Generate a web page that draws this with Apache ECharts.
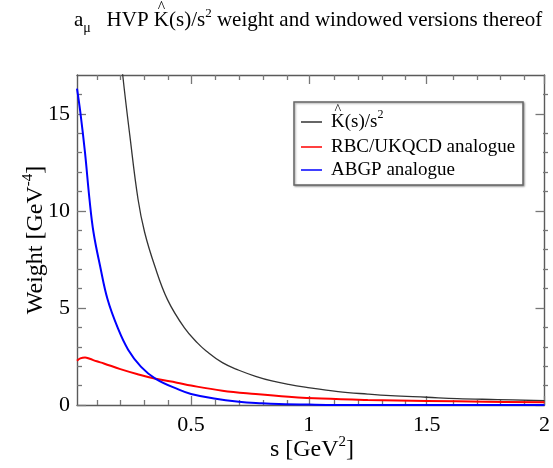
<!DOCTYPE html>
<html>
<head>
<meta charset="utf-8">
<script src="https://cdn.jsdelivr.net/npm/echarts@6/dist/echarts.min.js"></script>
<style>
  html, body { margin: 0; padding: 0; background: #fff; }
  #chart { width: 553px; height: 468px; }
</style>
</head>
<body>
<div id="chart"></div>
<script>
// Full a_mu HVP kernel weight  K^(s)/s^2
const kernelS = [0.200, 0.210, 0.240, 0.275, 0.303, 0.346, 0.400, 0.472, 0.528, 0.563, 0.633, 0.703, 0.774, 0.843, 0.914, 0.984, 1.124, 1.250, 1.347, 1.500, 1.630, 1.800, 2.000];
const kernelW = [18.4, 17.0, 13.9, 10.6, 8.9, 7.16, 5.43, 3.97, 3.19, 2.80, 2.18, 1.79, 1.48, 1.24, 1.06, 0.92, 0.69, 0.56, 0.48, 0.40, 0.33, 0.28, 0.22];

// RBC/UKQCD window analogue
const rbcS = [0.016, 0.030, 0.050, 0.070, 0.100, 0.130, 0.200, 0.270, 0.350, 0.440, 0.500, 0.633, 0.774, 0.914, 1.054, 1.250, 1.500, 1.750, 2.000];
const rbcW = [2.28, 2.40, 2.45, 2.38, 2.25, 2.14, 1.85, 1.60, 1.35, 1.15, 1.00, 0.74, 0.57, 0.43, 0.33, 0.26, 0.21, 0.17, 0.14];

// ABGP window analogue
const abgpS = [0.016, 0.030, 0.050, 0.069, 0.086, 0.114, 0.146, 0.189, 0.233, 0.287, 0.350, 0.451, 0.500, 0.598, 0.703, 0.800, 0.872, 1.000, 1.200, 1.500, 2.000];
const abgpW = [16.3, 15.1, 13.0, 10.6, 8.9, 7.16, 5.43, 3.97, 2.85, 1.98, 1.35, 0.78, 0.57, 0.33, 0.17, 0.09, 0.05, 0.02, 0.0, 0.0, 0.0];

// Axis ranges and tick positions
const sMin = 0.016, sMax = 2;
const wMin = 0, wMax = 17;
const xMajorTicks = [0.5, 1, 1.5, 2];
const xMinorTicks = [0.1, 0.2, 0.3, 0.4, 0.6, 0.7, 0.8, 0.9, 1.1, 1.2, 1.3, 1.4, 1.6, 1.7, 1.8, 1.9];
const yMajorTicks = [0, 5, 10, 15];
const yMinorTicks = [1, 2, 3, 4, 6, 7, 8, 9, 11, 12, 13, 14, 16];

const seriesNames = ['K^(s)/s^2', 'RBC/UKQCD analogue', 'ABGP analogue'];
const seriesColors = ['#333333', '#ff0000', '#0000ff'];

const SERIF = '"Liberation Serif", "Times New Roman", serif';
const measureCtx = document.createElement('canvas').getContext('2d');
function textWidth(t, size) {
  measureCtx.font = size + 'px ' + SERIF;
  return measureCtx.measureText(t).width;
}

// Lay out a row of text pieces on a common baseline (local coords).
// Each piece: {t, size, dy (baseline shift), hat (draw ^ above)}
function textRun(parts, z) {
  const out = [];
  let x = 0;
  parts.forEach(p => {
    const size = p.size;
    const base = (p.dy || 0);
    out.push({
      type: 'text', x: x, y: base - 0.34 * size, silent: true, z: z || 20,
      style: { text: p.t, font: size + 'px ' + SERIF, fill: '#000',
               align: 'left', verticalAlign: 'middle' }
    });
    const w = textWidth(p.t, size);
    if (p.hat) {
      const hs = size * 0.75;
      out.push({
        type: 'text', x: x + w / 2, y: base - 0.95 * size, silent: true, z: z || 20,
        style: { text: '^', font: hs + 'px ' + SERIF, fill: '#000',
                 align: 'center', verticalAlign: 'middle' }
      });
    }
    x += w;
  });
  return { children: out, width: x };
}

function toPairs(xs, ys) { return xs.map((x, i) => [x, ys[i]]); }

const axisGray = '#5a5a5a';
const tickGray = '#777777';

function xAx(grid, pos, ticks, len, showLine, labels) {
  return {
    type: 'value', gridIndex: grid, position: pos, min: sMin, max: sMax,
    axisLine: { show: showLine, onZero: false, lineStyle: { color: axisGray, width: 1.4 } },
    axisTick: { show: true, inside: true, length: len, customValues: ticks,
                lineStyle: { color: tickGray, width: 1.3 } },
    axisLabel: labels ? {
      show: true, customValues: xMajorTicks, margin: 9,
      fontFamily: SERIF, fontSize: 22, color: '#000',
      formatter: v => String(v)
    } : { show: false },
    splitLine: { show: false }
  };
}
function yAx(grid, pos, ticks, len, showLine, labels) {
  return {
    type: 'value', gridIndex: grid, position: pos, min: wMin, max: wMax,
    axisLine: { show: showLine, onZero: false, lineStyle: { color: axisGray, width: 1.4 } },
    axisTick: { show: true, inside: true, length: len, customValues: ticks,
                lineStyle: { color: tickGray, width: 1.3 } },
    axisLabel: labels ? {
      show: true, customValues: yMajorTicks, margin: 7,
      fontFamily: SERIF, fontSize: 22, color: '#000',
      formatter: v => String(v)
    } : { show: false },
    splitLine: { show: false }
  };
}

const gridBox = { left: 77, right: 5, top: 75, bottom: 63, containLabel: false };

const chart = echarts.init(document.getElementById('chart'), null, { renderer: 'canvas' });

// Title:  a_mu  HVP K^(s)/s^2 weight and windowed versions thereof
const title = textRun([
  { t: 'a', size: 21 },
  { t: 'μ', size: 14, dy: 5 },
  { t: '   HVP ', size: 21 },
  { t: 'K', size: 21, hat: true },
  { t: '(s)/s', size: 21 },
  { t: '2', size: 13, dy: -10 },
  { t: ' weight and windowed versions thereof', size: 21 }
]);

// Axis names
const xName = textRun([
  { t: 's [GeV', size: 24 },
  { t: '2', size: 15, dy: -11 },
  { t: ']', size: 24 }
]);
const yName = textRun([
  { t: 'Weight [GeV', size: 24 },
  { t: '-4', size: 15, dy: -11 },
  { t: ']', size: 24 }
]);

// Legend rows
const legendRows = [
  textRun([{ t: 'K', size: 19, hat: true }, { t: '(s)/s', size: 19 }, { t: '2', size: 12, dy: -9 }], 30),
  textRun([{ t: 'RBC/UKQCD analogue', size: 19 }], 30),
  textRun([{ t: 'ABGP analogue', size: 19 }], 30)
];
const legendRowY = [122, 147, 170];
const legendEls = [
  { type: 'rect', shape: { x: 294, y: 102, width: 229, height: 83 },
    style: { fill: '#fff', stroke: '#666', lineWidth: 1.5,
             shadowBlur: 2, shadowColor: 'rgba(0,0,0,0.35)', shadowOffsetX: 1, shadowOffsetY: 1 }, z: 10 }
];
legendRows.forEach((row, i) => {
  legendEls.push({ type: 'line', shape: { x1: 301, y1: legendRowY[i], x2: 322, y2: legendRowY[i] },
                   style: { stroke: seriesColors[i], lineWidth: 1.5 }, z: 30 });
  legendEls.push({ type: 'group', x: 331, y: legendRowY[i] + 6, children: row.children });
});

const option = {
  backgroundColor: '#fff',
  animation: false,
  grid: [gridBox, gridBox],
  xAxis: [
    xAx(0, 'bottom', xMajorTicks, 9, true, true),
    xAx(0, 'top', xMajorTicks, 9, true, false),
    xAx(1, 'bottom', xMinorTicks, 5, false, false),
    xAx(1, 'top', xMinorTicks, 5, false, false)
  ],
  yAxis: [
    yAx(0, 'left', yMajorTicks, 9, true, true),
    yAx(0, 'right', yMajorTicks, 9, true, false),
    yAx(1, 'left', yMinorTicks, 5, false, false),
    yAx(1, 'right', yMinorTicks, 5, false, false)
  ],
  series: [
    { name: seriesNames[0], type: 'line', xAxisIndex: 0, yAxisIndex: 0,
      data: toPairs(kernelS, kernelW), showSymbol: false, smooth: 0.4,
      clip: true, lineStyle: { color: seriesColors[0], width: 1.3 }, z: 3 },
    { name: seriesNames[1], type: 'line', xAxisIndex: 0, yAxisIndex: 0,
      data: toPairs(rbcS, rbcW), showSymbol: false, smooth: 0.4,
      clip: true, lineStyle: { color: seriesColors[1], width: 2 }, z: 4 },
    { name: seriesNames[2], type: 'line', xAxisIndex: 0, yAxisIndex: 0,
      data: toPairs(abgpS, abgpW), showSymbol: false, smooth: 0.4,
      clip: true, lineStyle: { color: seriesColors[2], width: 2 }, z: 5 }
  ],
  graphic: [
    { type: 'group', x: 74, y: 28, children: title.children },
    { type: 'group', x: 312 - xName.width / 2, y: 458, children: xName.children },
    { type: 'group', x: 44, y: 240 + yName.width / 2, rotation: Math.PI / 2, children: yName.children },
    ...legendEls
  ]
};
chart.setOption(option);
</script>
</body>
</html>
